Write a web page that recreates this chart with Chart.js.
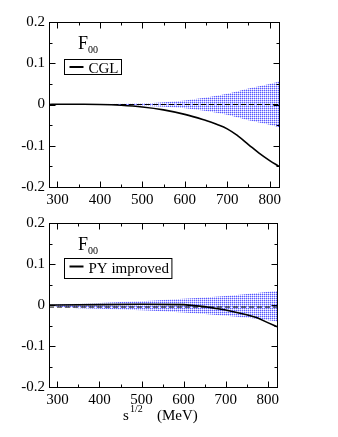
<!DOCTYPE html>
<html>
<head>
<meta charset="utf-8">
<style>
  html, body { margin: 0; padding: 0; background: #fff; }
  body { width: 338px; height: 437px; position: relative; overflow: hidden; }
  canvas { position: absolute; left: 0; }
  #topChart { top: 0; }
  #bottomChart { top: 210px; }
</style>
<script src="https://cdn.jsdelivr.net/npm/chart.js@4.4.1/dist/chart.umd.min.js"></script>
</head>
<body>
<canvas id="topChart" width="338" height="210"></canvas>
<canvas id="bottomChart" width="338" height="227"></canvas>
<script>
// Axis ticks
const xTickValues = [300, 400, 500, 600, 700, 800];
const yTickValues = [-0.2, -0.1, 0, 0.1, 0.2];

// Top panel - CGL
const cglEnergy = [280, 300, 350, 400, 450, 500, 550, 600, 650, 675, 700, 725, 750, 775, 800, 822];
const cglF00 = [0, 0.0005, 0.0005, 0, -0.002, -0.006, -0.013, -0.024, -0.039, -0.048, -0.059, -0.076, -0.097, -0.118, -0.136, -0.150];
const cglBandEnergy = [280, 300, 400, 500, 600, 650, 700, 750, 800, 822];
const cglBandUpper = [0, 0.0005, 0.001, 0.003, 0.010, 0.017, 0.026, 0.039, 0.050, 0.056];
const cglBandLower = [0, -0.0005, -0.001, -0.003, -0.009, -0.016, -0.025, -0.038, -0.049, -0.055];
const cglRefLine = [0, 0];

// Bottom panel - PY improved
const pyEnergy = [280, 300, 400, 500, 600, 650, 700, 750, 775, 800, 822];
const pyF00 = [0, 0, 0.001, 0.002, 0.001, -0.004, -0.012, -0.024, -0.031, -0.043, -0.053];
const pyBandEnergy = [280, 300, 400, 500, 600, 700, 780, 822];
const pyBandUpper = [0, 0.001, 0.005, 0.009, 0.015, 0.022, 0.030, 0.034];
const pyBandLower = [0, -0.004, -0.009, -0.013, -0.018, -0.026, -0.034, -0.040];
const pyRefLine = [-0.005, -0.005];

const refEnergy = [280, 822];

const serif = "'Liberation Serif', 'DejaVu Serif', serif";

// dotted blue fill like the original hatch
function makeBandPattern() {
  const c = document.createElement('canvas');
  c.width = 2; c.height = 2;
  const p = c.getContext('2d');
  p.fillStyle = '#ffffff'; p.fillRect(0, 0, 2, 2);
  p.fillStyle = '#5858ff'; p.fillRect(0, 0, 1, 1);
  p.fillStyle = '#c4c4ff'; p.fillRect(1, 0, 1, 1); p.fillRect(0, 1, 1, 1);
  return p.createPattern(c, 'repeat');
}

function toPoints(xs, ys) {
  return xs.map((x, i) => ({ x: x, y: ys[i] }));
}

// frame, inward ticks, F00 label, legend box, axis title
const panelDecor = {
  id: 'panelDecor',
  afterDraw(chart, args, opts) {
    const { ctx, chartArea: a, scales: { x, y } } = chart;
    ctx.save();
    ctx.strokeStyle = '#000';
    ctx.lineWidth = 1;
    const L = Math.round(a.left) + 0.5, R = Math.round(a.right) + 0.5;
    const T = Math.round(a.top) + 0.5, B = Math.round(a.bottom) + 0.5;
    ctx.strokeRect(L, T, R - L, B - T);

    ctx.beginPath();
    xTickValues.forEach(v => {
      [[v, 6], [v + 50, 3]].forEach(([val, len]) => {
        if (val < x.min || val > x.max) return;
        const px = Math.round(x.getPixelForValue(val)) + 0.5;
        ctx.moveTo(px, B); ctx.lineTo(px, B - len);
        ctx.moveTo(px, T); ctx.lineTo(px, T + len);
      });
    });
    yTickValues.forEach(v => {
      [[v, 6], [v + 0.05, 3]].forEach(([val, len]) => {
        if (val < y.min - 1e-9 || val > y.max + 1e-9) return;
        const py = Math.round(y.getPixelForValue(val)) + 0.5;
        ctx.moveTo(L, py); ctx.lineTo(L + len, py);
        ctx.moveTo(R, py); ctx.lineTo(R - len, py);
      });
    });
    ctx.stroke();

    ctx.fillStyle = '#000';
    ctx.textBaseline = 'alphabetic';
    // F00
    ctx.font = '18px ' + serif;
    ctx.fillText('F', opts.fx, opts.fy);
    const fw = ctx.measureText('F').width;
    ctx.font = '10px ' + serif;
    ctx.fillText('00', opts.fx + fw, opts.fy + 4);

    // legend
    ctx.font = '15px ' + serif;
    const tw = ctx.measureText(opts.label).width;
    const bx = 64.5, by = opts.boxY + 0.5;
    const bw = 24 + tw + 3;
    ctx.strokeRect(bx, by, bw, opts.boxH);
    ctx.fillText(opts.label, bx + 24, by + opts.textDy);
    ctx.lineWidth = 2;
    ctx.beginPath();
    const ly = by + opts.lineDy;
    ctx.moveTo(bx + 5, ly); ctx.lineTo(bx + 19, ly);
    ctx.stroke();

    if (opts.title) {
      ctx.font = '15px ' + serif;
      ctx.fillText('s', 123, 210);
      ctx.font = '10px ' + serif;
      ctx.fillText('1/2', 130, 202);
      ctx.font = '15px ' + serif;
      ctx.fillText('(MeV)', 157, 210);
    }
    ctx.restore();
  }
};

function makeChart(id, cfg) {
  const pattern = makeBandPattern();
  return new Chart(document.getElementById(id), {
    type: 'line',
    data: {
      datasets: [
        {
          data: toPoints(cfg.curveX, cfg.curveY),
          borderColor: '#000', borderWidth: 1.6,
          pointRadius: 0, fill: false,
          tension: cfg.smooth ? 0.4 : 0
        },
        {
          data: toPoints(refEnergy, cfg.refY),
          borderColor: '#000', borderWidth: 1, borderDash: [5, 3],
          pointRadius: 0, fill: false
        },
        {
          data: toPoints(cfg.bandX, cfg.bandUp),
          borderWidth: 0, borderColor: 'rgba(0,0,0,0)',
          pointRadius: 0, fill: false,
          cubicInterpolationMode: 'monotone'
        },
        {
          data: toPoints(cfg.bandX, cfg.bandLo),
          borderWidth: 0, borderColor: 'rgba(0,0,0,0)',
          backgroundColor: pattern,
          pointRadius: 0, fill: '-1',
          cubicInterpolationMode: 'monotone'
        }
      ]
    },
    options: {
      responsive: false,
      animation: false,
      events: [],
      layout: { padding: { top: cfg.padTop, right: cfg.padRight, left: 0, bottom: 0 } },
      plugins: {
        legend: { display: false },
        tooltip: { enabled: false },
        panelDecor: cfg.decor
      },
      scales: {
        x: {
          type: 'linear', min: 280, max: 822,
          grid: { display: false, drawTicks: false },
          border: { display: false },
          afterBuildTicks: s => { s.ticks = xTickValues.map(v => ({ value: v })); },
          afterFit: s => { s.height = cfg.xHeight; },
          ticks: { color: '#000', padding: 4, maxRotation: 0, font: { family: serif, size: 15 } }
        },
        y: {
          type: 'linear', min: -0.2, max: 0.2,
          grid: { display: false, drawTicks: false },
          border: { display: false },
          afterBuildTicks: s => { s.ticks = yTickValues.map(v => ({ value: v })); },
          afterFit: s => { s.width = 49; },
          ticks: {
            color: '#000', padding: 4, font: { family: serif, size: 15 },
            callback: v => (Math.abs(v) < 1e-9 ? '0' : v.toFixed(1))
          }
        }
      }
    },
    plugins: [panelDecor]
  });
}

makeChart('topChart', {
  curveX: cglEnergy, curveY: cglF00, smooth: true,
  refY: cglRefLine,
  bandX: cglBandEnergy, bandUp: cglBandUpper, bandLo: cglBandLower,
  padTop: 22, padRight: 59, xHeight: 23,
  decor: { label: 'CGL', fx: 78, fy: 49, boxY: 59, boxH: 15, textDy: 13, lineDy: 7.5, title: false }
});

makeChart('bottomChart', {
  curveX: pyEnergy, curveY: pyF00, smooth: false,
  refY: pyRefLine,
  bandX: pyBandEnergy, bandUp: pyBandUpper, bandLo: pyBandLower,
  padTop: 7, padRight: 61, xHeight: 50,
  decor: { label: 'PY improved', fx: 78, fy: 40, boxY: 48, boxH: 20, textDy: 14, lineDy: 8, title: true }
});
</script>
</body>
</html>
